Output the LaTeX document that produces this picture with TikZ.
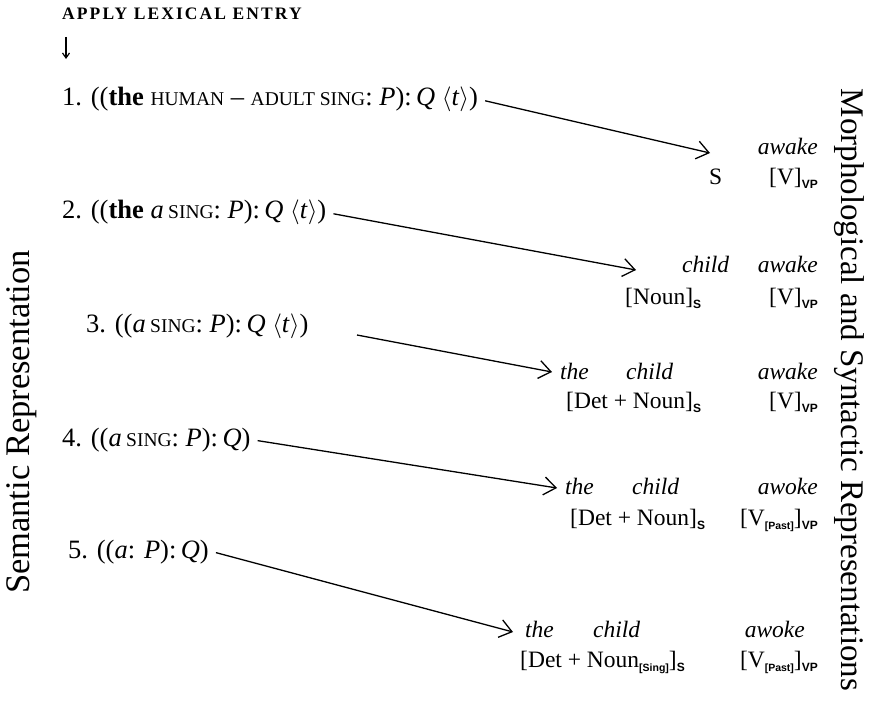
\documentclass[tikz,border=0pt]{standalone}
\usepackage{fontspec}
\setmainfont{Liberation Serif}
\setsansfont{Liberation Sans}
\usetikzlibrary{arrows.meta}
\newcommand{\smc}[1]{{\fontsize{19.5}{20}\selectfont #1}}
\newcommand{\sbs}[1]{\raisebox{-4.5pt}{\fontsize{12}{12}\selectfont\sffamily\bfseries #1}}
\newcommand{\sbi}[1]{\raisebox{-4.5pt}{\fontsize{10.5}{12}\selectfont\sffamily\bfseries #1}}
\newcommand{\ang}[1]{$\langle$\textit{#1}$\rangle$}
\begin{document}
\begin{tikzpicture}[x=1pt,y=-1pt,
  txt/.style={anchor=base west,inner sep=0pt,font=\fontsize{26.5}{28}\selectfont},
  rt/.style={anchor=base west,inner sep=0pt,font=\fontsize{23.5}{28}\selectfont},
  rte/.style={rt,anchor=base east},
  side/.style={inner sep=0pt,font=\fontsize{33}{36}\selectfont},
  arr/.style={-{Straight Barb[length=12pt,width=18pt,line width=1.3pt]},line width=1.3pt}]
\useasboundingbox (0,0) rectangle (869,717);
% header
\node[anchor=base west,inner sep=0pt,font=\fontsize{17.5}{18}\selectfont\bfseries\addfontfeature{LetterSpace=12}] (apply) at (62,20) {APPLY LEXICAL ENTRY};
\coordinate (d1) at (66,37);
\coordinate (d2) at (66,59);
\draw[-{Straight Barb[length=5pt,width=7pt]},line width=1.2pt] (d1) -- (d2);
% semantic lines
\node[txt] (l1) at (62,105) {1. ((\textbf{the} \smc{HUMAN} -- \smc{ADULT SING}: \textit{P}):\,\textit{Q} \ang{t})};
\node[txt] (l2) at (62,218) {2. ((\textbf{the} \textit{a}\,\smc{SING}: \textit{P}):\,\textit{Q} \ang{t})};
\node[txt] (l3) at (86,332) {3. ((\textit{a}\,\smc{SING}: \textit{P}):\,\textit{Q} \ang{t})};
\node[txt] (l4) at (62,446) {4. ((\textit{a}\,\smc{SING}: \textit{P}):\,\textit{Q})};
\node[txt] (l5) at (68,558) {5. ((\textit{a}: \textit{P}):\,\textit{Q})};
% row 1
\node[rte] (r1w) at (818,154) {\textit{awake}};
\node[rt] (r1s) at (709,184) {S};
\node[rte] (r1v) at (818,184) {[V]\sbs{VP}};
% row 2
\node[rt] (r2c) at (682,272) {\textit{child}};
\node[rte] (r2w) at (818,272) {\textit{awake}};
\node[rt] (r2n) at (625,304) {[Noun]\sbs{S}};
\node[rte] (r2v) at (818,304) {[V]\sbs{VP}};
% row 3
\node[rt] (r3t) at (560,379) {\textit{the}};
\node[rt] (r3c) at (626,379) {\textit{child}};
\node[rte] (r3w) at (818,379) {\textit{awake}};
\node[rt] (r3n) at (566,408) {[Det + Noun]\sbs{S}};
\node[rte] (r3v) at (818,408) {[V]\sbs{VP}};
% row 4
\node[rt] (r4t) at (565,494) {\textit{the}};
\node[rt] (r4c) at (632,494) {\textit{child}};
\node[rte] (r4w) at (818,494) {\textit{awoke}};
\node[rt] (r4n) at (570,525) {[Det + Noun]\sbs{S}};
\node[rte] (r4v) at (818,525) {[V\sbi{[Past]}]\sbs{VP}};
% row 5
\node[rt] (r5t) at (525,637) {\textit{the}};
\node[rt] (r5c) at (593,637) {\textit{child}};
\node[rte] (r5w) at (805,637) {\textit{awoke}};
\node[rt] (r5n) at (520,667) {[Det + Noun\sbi{[Sing]}]\sbs{S}};
\node[rte] (r5v) at (818,667) {[V\sbi{[Past]}]\sbs{VP}};
% arrows
\coordinate (a1e) at (710,153);
\coordinate (a2e) at (636,270);
\coordinate (a3s) at (357,335); \coordinate (a3e) at (552,372);
\coordinate (a4e) at (557,488);
\coordinate (a5e) at (513,632);
\draw[arr] ([xshift=7pt,yshift=-2pt]l1.east) -- (a1e);
\draw[arr] ([xshift=7pt,yshift=-2pt]l2.east) -- (a2e);
\draw[arr] (a3s) -- (a3e);
\draw[arr] ([xshift=7pt,yshift=-1pt]l4.east) -- (a4e);
\draw[arr] ([xshift=7pt,yshift=-1pt]l5.east) -- (a5e);
% side labels
\node[side,font=\fontsize{34.5}{36}\selectfont,rotate=90] (sem) at (22,422) {Semantic Representation};
\node[side,rotate=-90] (morph) at (849,390) {Morphological and Syntactic Representations};
\end{tikzpicture}
\end{document}
